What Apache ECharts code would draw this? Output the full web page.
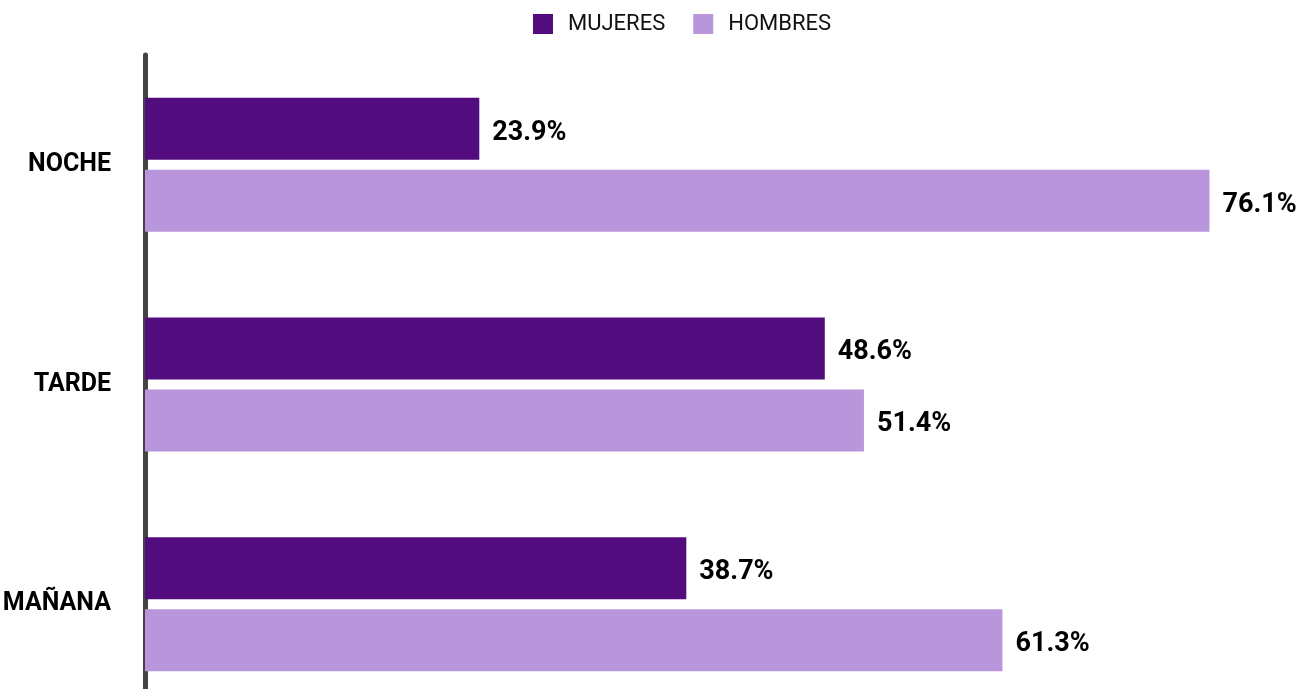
<!DOCTYPE html>
<html>
<head>
<meta charset="utf-8">
<script src="https://cdn.jsdelivr.net/npm/echarts@6/dist/echarts.min.js"></script>
<style>
	html, body {margin: 0; padding: 0; background: #fff;}
	#chart {width: 1309px; height: 689px;}
</style>
</head>
<body>
<div id="chart"></div>
<script>
// franjas horarias, de arriba a abajo
const franjas = ['NOCHE', 'TARDE', 'MAÑANA'];
const mujeres = [23.9, 48.6, 38.7];
const hombres = [76.1, 51.4, 61.3];

const fuente = 'Roboto, "Liberation Sans", sans-serif';

const chart = echarts.init(document.getElementById('chart'));

const etiqueta = {
	show: true,
	position: 'right',
	distance: 13,
	offset: [0, 4],
	formatter: p => p.value.toFixed(1) + '%',
	fontFamily: fuente,
	fontWeight: 'bold',
	fontSize: 27,
	color: '#000'
};

const option = {
	animation: false,
	legend: {
		left: 528,
		top: 8,
		itemWidth: 20,
		itemHeight: 20,
		itemGap: 28,
		icon: 'rect',
		textStyle: {
			fontFamily: fuente,
			fontSize: 22,
			color: '#111',
			padding: [0, 0, 0, 10]
		},
		data: ['MUJERES', 'HOMBRES']
	},
	grid: {
		left: 145,
		top: 55,
		width: 1119,
		height: 659,
		outerBoundsMode: 'none',
		containLabel: false
	},
	xAxis: {
		type: 'value',
		min: 0,
		max: 80,
		show: false
	},
	yAxis: {
		type: 'category',
		inverse: true,
		data: franjas,
		axisLine: {show: true, lineStyle: {color: '#444', width: 5}},
		axisTick: {show: false},
		axisLabel: {
			margin: 34,
			padding: [14, 0, 0, 0],
			fontFamily: fuente,
			fontWeight: 'bold',
			fontSize: 25,
			color: '#000'
		}
	},
	series: [
		{
			name: 'MUJERES',
			type: 'bar',
			data: mujeres,
			barWidth: 62,
			barGap: '16%',
			itemStyle: {color: '#520c7d'},
			label: etiqueta
		},
		{
			name: 'HOMBRES',
			type: 'bar',
			data: hombres,
			barWidth: 62,
			barGap: '16%',
			itemStyle: {color: '#b996db'},
			label: etiqueta
		}
	]
};

chart.setOption(option);
</script>
</body>
</html>
